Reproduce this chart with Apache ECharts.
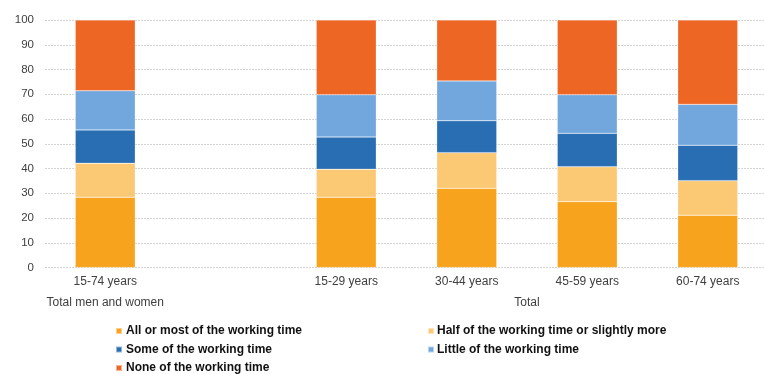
<!DOCTYPE html>
<html>
<head>
<meta charset="utf-8">
<script src="https://cdn.jsdelivr.net/npm/echarts@6/dist/echarts.min.js"></script>
<style>
  html, body { margin: 0; padding: 0; background: #fff; }
  #chart { width: 765px; height: 374px; }
</style>
</head>
<body>
<div id="chart"></div>
<script>
// Age groups on the x axis (second slot left empty to separate the groups)
const categories = ['15-74 years', '', '15-29 years', '30-44 years', '45-59 years', '60-74 years'];

// Share of workers (%), by how much of the working time is affected
const allOrMost   = [28.4, null, 28.4, 32.0, 26.6, 21.1];
const halfOrMore  = [13.7, null, 11.3, 14.4, 14.1, 14.0];
const someTime    = [13.5, null, 13.0, 12.9, 13.5, 14.3];
const littleTime  = [15.8, null, 17.1, 16.1, 15.6, 16.5];
const noneTime    = [28.6, null, 30.2, 24.6, 30.2, 34.1];

const seriesNames = [
  'All or most of the working time',
  'Half of the working time or slightly more',
  'Some of the working time',
  'Little of the working time',
  'None of the working time'
];
const seriesColors = ['#F8A31D', '#FBC874', '#296DB3', '#71A7DD', '#EE6624'];

// Group captions under the age labels, positioned in category-slot units
const groupLabels = [
  { at: 0.5, text: 'Total men and women' },
  { at: 4, text: 'Total' }
];

const yTicks = { min: 0, max: 100, interval: 10 };

const font = 'Liberation Sans, Arial, sans-serif';
const textColor = '#404040';

const chart = echarts.init(document.getElementById('chart'), null, { renderer: 'canvas' });

const values = [allOrMost, halfOrMore, someTime, littleTime, noneTime];

const legendText = { color: '#111', fontSize: 12, fontWeight: 'bold', fontFamily: font, lineHeight: 13 };

chart.setOption({
  animation: false,
  grid: { left: 45, width: 723, top: 20, height: 247.5, containLabel: false, outerBoundsMode: 'none' },
  xAxis: [
    {
      type: 'category',
      data: categories,
      axisLine: { show: false },
      axisTick: { show: false },
      axisLabel: { color: textColor, fontSize: 12, fontFamily: font, margin: 8, interval: 0 }
    },
    {
      type: 'value',
      min: 0, max: 6, interval: 0.5,
      position: 'bottom',
      offset: 21,
      axisLine: { show: false },
      axisTick: { show: false },
      splitLine: { show: false },
      axisLabel: {
        color: textColor, fontSize: 12, fontFamily: font, margin: 8,
        showMinLabel: true, showMaxLabel: true,
        formatter: function (v) {
          const g = groupLabels.find(function (x) { return Math.abs(x.at - v) < 1e-6; });
          return g ? g.text : '';
        }
      }
    }
  ],
  yAxis: {
    type: 'value',
    min: yTicks.min, max: yTicks.max, interval: yTicks.interval,
    axisLine: { show: false },
    axisTick: { show: false },
    axisLabel: { color: textColor, fontSize: 11.5, fontFamily: font, margin: 11 },
    splitLine: { lineStyle: { color: '#d4d4d4', type: [2, 1], width: 1 } }
  },
  legend: [
    {
      orient: 'vertical',
      left: 115, top: 324.5, height: 60, padding: 0,
      icon: 'rect', itemWidth: 6, itemHeight: 6, itemGap: 5.5,
      data: [seriesNames[0], seriesNames[2], seriesNames[4]],
      textStyle: Object.assign({ padding: [0, 0, 0, -1] }, legendText)
    },
    {
      orient: 'vertical',
      left: 427, top: 324.5, height: 60, padding: 0,
      icon: 'rect', itemWidth: 6, itemHeight: 6, itemGap: 5.5,
      data: [seriesNames[1], seriesNames[3]],
      textStyle: Object.assign({ padding: [0, 0, 0, -2] }, legendText)
    }
  ],
  series: values.map(function (vals, i) {
    return {
      name: seriesNames[i],
      type: 'bar',
      stack: 'total',
      xAxisIndex: 0,
      barWidth: 60,
      data: vals,
      itemStyle: { color: seriesColors[i], borderColor: 'rgba(255,255,255,0.5)', borderWidth: 0.5 }
    };
  })
});
</script>
</body>
</html>
